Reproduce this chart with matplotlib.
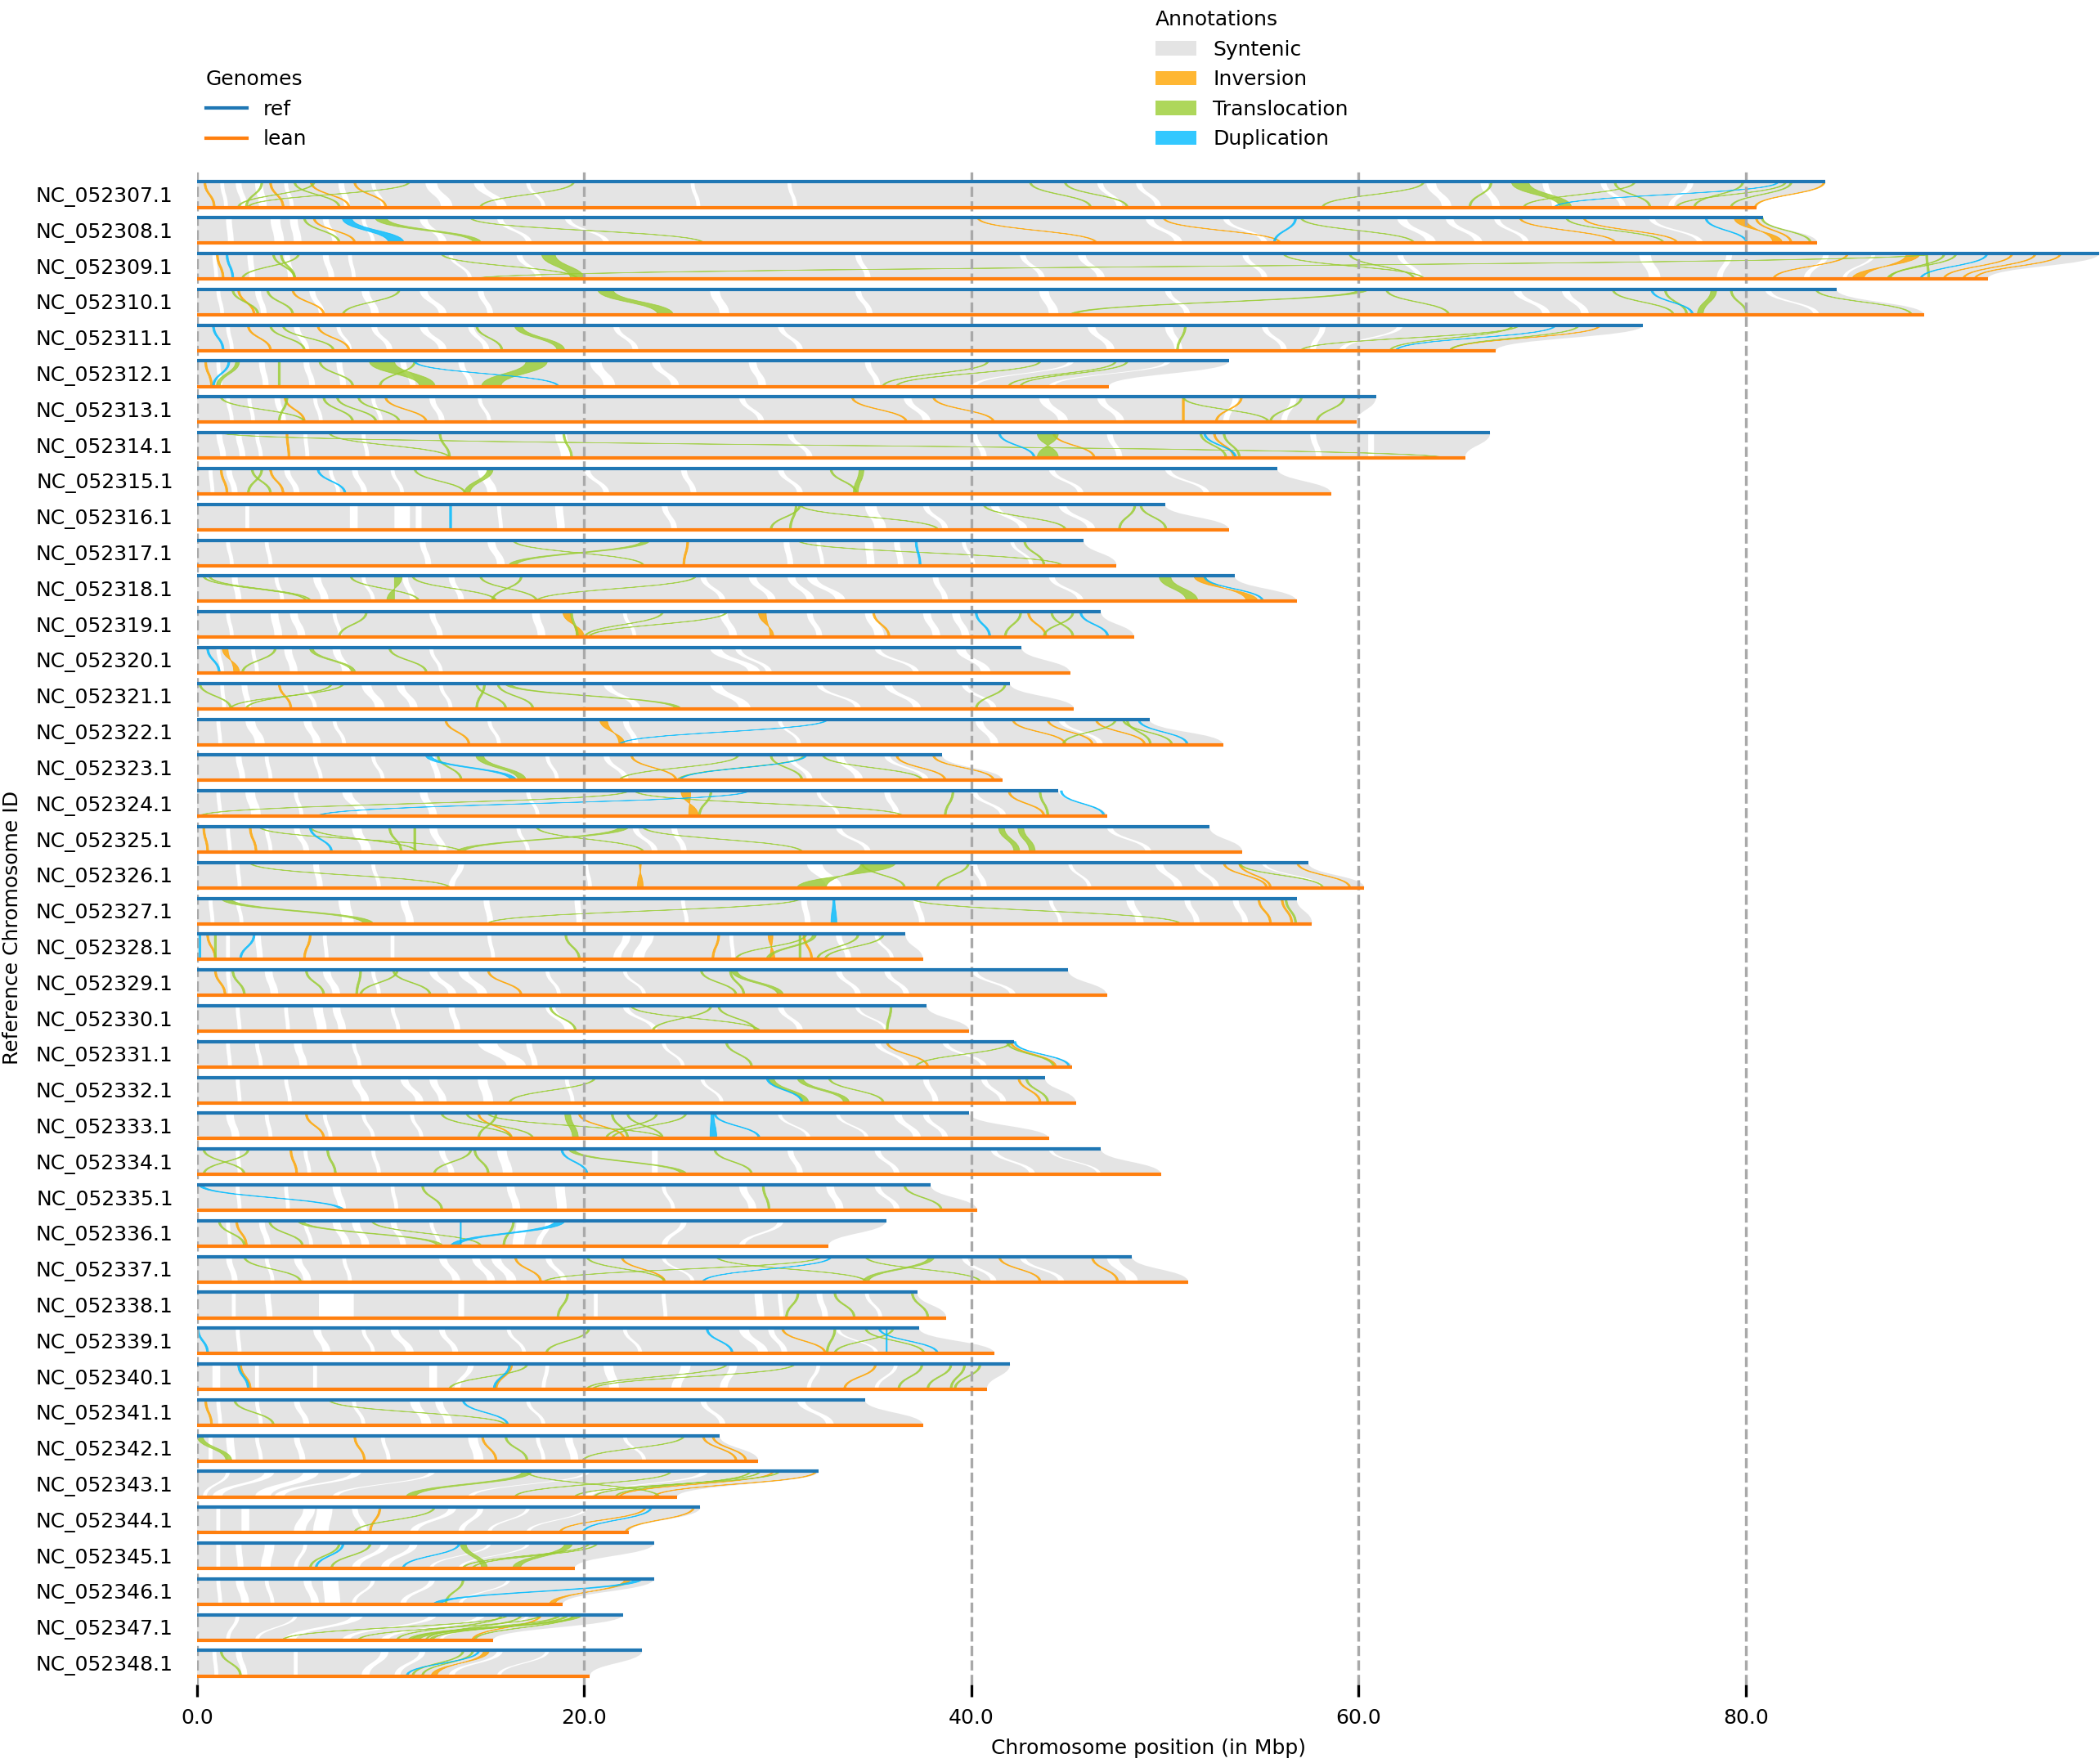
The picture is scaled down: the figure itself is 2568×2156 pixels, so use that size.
import numpy as np
import matplotlib.pyplot as plt
from matplotlib.path import Path
from matplotlib.patches import PathPatch, Patch
from matplotlib.lines import Line2D

chrom_ids = ["NC_052307.1", "NC_052308.1", "NC_052309.1", "NC_052310.1", "NC_052311.1",
             "NC_052312.1", "NC_052313.1", "NC_052314.1", "NC_052315.1", "NC_052316.1",
             "NC_052317.1", "NC_052318.1", "NC_052319.1", "NC_052320.1", "NC_052321.1",
             "NC_052322.1", "NC_052323.1", "NC_052324.1", "NC_052325.1", "NC_052326.1",
             "NC_052327.1", "NC_052328.1", "NC_052329.1", "NC_052330.1", "NC_052331.1",
             "NC_052332.1", "NC_052333.1", "NC_052334.1", "NC_052335.1", "NC_052336.1",
             "NC_052337.1", "NC_052338.1", "NC_052339.1", "NC_052340.1", "NC_052341.1",
             "NC_052342.1", "NC_052343.1", "NC_052344.1", "NC_052345.1", "NC_052346.1",
             "NC_052347.1", "NC_052348.1"]

# chromosome lengths in Mbp
ref_len = [84.1, 80.9, 98.25, 84.7, 74.7, 53.3, 60.9, 66.8, 55.8, 50.0,
           45.8, 53.6, 46.7, 42.6, 42.0, 49.2, 38.5, 44.5, 52.3, 57.4,
           56.8, 36.6, 45.0, 37.7, 42.2, 43.8, 39.9, 46.7, 37.9, 35.6,
           48.3, 37.2, 37.3, 42.0, 34.5, 27.0, 32.1, 26.0, 23.6, 23.6,
           22.0, 23.0]
lean_len = [80.55, 83.7, 92.5, 89.2, 67.1, 47.1, 59.9, 65.5, 58.6, 53.3,
            47.5, 56.8, 48.4, 45.1, 45.3, 53.0, 41.6, 47.0, 54.0, 60.3,
            57.6, 37.5, 47.0, 39.9, 45.2, 45.4, 44.0, 49.8, 40.3, 32.6,
            51.2, 38.7, 41.2, 40.8, 37.5, 29.0, 24.8, 22.3, 19.5, 18.9,
            15.3, 20.3]

# breaks between syntenic blocks: (ref pos, lean pos, gap width)
syn_gaps = [
    [(1.2, 1.4, 0.2), (2.0, 2.3, 0.3), (3.0, 3.2, 0.4), (4.5, 4.8, 0.2), (7.3, 7.6, 0.3), (9.0, 9.5, 0.2), (11.8, 12.6, 0.6), (14.3, 15.5, 0.5), (17.0, 17.8, 0.2), (25.5, 25.8, 0.2), (30.5, 30.8, 0.2), (46.5, 47.5, 0.3), (48.5, 49.5, 0.3), (63.5, 64.3, 0.5), (66.3, 66.9, 0.4), (69.5, 70.0, 0.3), (72.5, 73.5, 0.3), (77.0, 76.0, 0.3)],
    [(1.5, 1.6, 0.3), (3.8, 4.0, 0.5), (4.8, 5.0, 0.4), (6.5, 7.0, 0.3), (8.5, 9.0, 0.2), (11.5, 12.5, 0.4), (15.5, 17.0, 0.3), (19.0, 21.0, 0.3), (49.0, 50.5, 0.4), (53.0, 55.0, 0.3), (62.0, 63.5, 0.5), (64.5, 66.0, 0.4), (67.0, 68.5, 0.3), (75.0, 77.5, 0.3)],
    [(0.8, 0.9, 0.2), (2.6, 2.7, 0.3), (4.5, 4.7, 0.3), (6.5, 6.8, 0.3), (7.8, 8.0, 0.2), (13.0, 14.0, 0.2), (16.5, 17.5, 0.3), (34.0, 34.5, 0.3), (42.5, 43.5, 0.3), (45.5, 46.5, 0.4), (54.0, 55.0, 0.3), (62.0, 63.0, 0.3), (74.5, 75.0, 0.6), (79.0, 78.5, 0.3), (84.0, 83.0, 0.3), (86.5, 85.0, 0.2)],
    [(1.0, 1.2, 0.2), (3.0, 3.3, 0.3), (5.8, 6.3, 0.3), (8.5, 9.0, 0.4), (11.5, 12.5, 0.4), (14.5, 15.0, 0.3), (26.5, 27.0, 0.5), (34.0, 34.6, 0.3), (43.5, 44.0, 0.5), (50.0, 51.0, 0.3), (68.0, 69.5, 0.4), (70.5, 71.5, 0.4), (81.0, 83.5, 0.3)],
    [(1.5, 1.7, 0.2), (5.0, 5.5, 0.3), (7.2, 7.8, 0.2), (9.0, 9.8, 0.3), (11.5, 12.5, 0.4), (14.0, 14.8, 0.3), (21.5, 22.5, 0.3), (30.0, 31.0, 0.3), (46.0, 47.0, 0.4), (50.0, 50.5, 0.4), (55.0, 56.0, 0.3), (58.0, 57.5, 0.3), (62.0, 59.0, 0.3)],
    [(1.0, 1.1, 0.2), (3.2, 3.4, 0.3), (5.5, 5.8, 0.3), (7.2, 7.4, 0.3), (10.5, 11.0, 0.3), (13.5, 14.0, 0.3), (20.3, 21.0, 0.6), (23.5, 24.5, 0.4), (28.5, 29.0, 0.4), (34.5, 35.0, 0.3), (45.0, 40.0, 0.3), (50.0, 44.0, 0.3)],
    [(1.5, 1.7, 0.2), (2.6, 2.8, 0.2), (4.0, 4.3, 0.3), (6.0, 6.3, 0.2), (9.0, 9.4, 0.2), (12.0, 12.5, 0.3), (14.5, 15.0, 0.2), (28.0, 29.0, 0.3), (36.5, 37.5, 0.4), (43.5, 44.5, 0.5), (46.5, 47.5, 0.4), (53.5, 53.0, 0.3), (56.5, 56.0, 0.3)],
    [(1.0, 1.2, 0.3), (2.0, 2.2, 0.3), (3.0, 3.2, 0.2), (5.5, 5.6, 0.2), (8.5, 8.7, 0.2), (18.5, 18.8, 0.6), (30.5, 31.5, 0.3), (40.0, 40.5, 0.3), (47.0, 47.5, 0.3), (57.5, 57.8, 0.3), (60.5, 60.5, 0.3)],
    [(0.6, 0.7, 0.2), (1.5, 1.8, 0.3), (4.5, 5.0, 0.3), (6.8, 7.2, 0.2), (8.0, 8.5, 0.3), (10.0, 10.5, 0.2), (14.5, 15.0, 0.5), (20.0, 21.0, 0.3), (25.0, 25.5, 0.3), (30.0, 31.0, 0.3), (44.0, 45.5, 0.3), (50.0, 52.0, 0.3)],
    [(2.5, 2.5, 0.2), (7.9, 7.9, 0.4), (10.2, 10.2, 0.8), (11.3, 11.3, 0.3), (15.5, 15.6, 0.2), (18.5, 18.6, 0.4), (24.0, 24.5, 0.3), (34.5, 35.0, 0.6), (37.5, 38.5, 0.3), (41.0, 42.5, 0.4), (44.5, 46.0, 0.4)],
    [(1.5, 1.7, 0.2), (3.5, 3.7, 0.2), (11.5, 11.8, 0.3), (15.0, 15.5, 0.4), (30.3, 30.5, 0.3), (32.0, 32.2, 0.2), (34.5, 34.6, 0.4), (36.0, 36.2, 0.3), (39.5, 40.0, 0.2), (42.0, 43.0, 0.2)],
    [(1.8, 2.0, 0.3), (4.0, 4.3, 0.2), (6.0, 6.4, 0.4), (8.5, 9.0, 0.2), (10.6, 11.0, 0.3), (13.0, 13.5, 0.3), (26.0, 27.0, 0.3), (28.5, 29.5, 0.4), (30.5, 31.5, 0.4), (31.5, 33.0, 0.5), (38.0, 38.5, 0.3), (44.0, 45.5, 0.3)],
    [(1.5, 1.7, 0.2), (3.8, 4.0, 0.4), (4.8, 5.2, 0.4), (7.0, 7.3, 0.2), (12.0, 12.4, 0.3), (17.3, 17.6, 0.4), (22.0, 22.5, 0.2), (27.0, 27.5, 0.4), (31.5, 32.0, 0.3), (34.5, 35.0, 0.5), (37.5, 38.0, 0.4), (39.0, 39.5, 0.4)],
    [(1.0, 1.2, 0.2), (2.8, 3.0, 0.2), (4.5, 4.8, 0.4), (7.0, 7.5, 0.4), (12.0, 12.5, 0.2), (26.5, 28.5, 0.6), (27.8, 29.4, 0.3), (35.0, 37.0, 0.3), (39.2, 40.5, 0.5)],
    [(1.2, 1.3, 0.2), (2.3, 2.5, 0.3), (5.5, 6.0, 0.2), (8.5, 9.2, 0.5), (10.3, 11.0, 0.4), (12.5, 13.0, 0.2), (21.0, 22.5, 0.4), (26.5, 28.0, 0.6), (32.0, 34.0, 0.3), (35.5, 37.0, 0.4), (39.5, 41.0, 0.3)],
    [(1.0, 1.1, 0.2), (2.5, 3.0, 0.5), (5.5, 6.0, 0.4), (7.0, 7.5, 0.2), (15.0, 15.5, 0.2), (22.0, 22.5, 0.3), (30.0, 31.0, 0.2), (40.2, 41.0, 0.4), (44.5, 46.5, 0.3)],
    [(2.0, 2.2, 0.3), (3.5, 3.7, 0.2), (6.0, 6.3, 0.2), (9.0, 9.5, 0.2), (12.0, 12.3, 0.3), (18.0, 18.5, 0.2), (21.0, 22.0, 0.3), (30.5, 31.5, 0.3), (33.0, 34.0, 0.4), (35.5, 37.5, 0.3)],
    [(1.0, 1.1, 0.2), (2.5, 2.8, 0.5), (5.0, 5.3, 0.2), (7.5, 8.3, 0.5), (11.5, 12.0, 0.4), (17.0, 17.5, 0.2), (32.0, 33.0, 0.2), (35.5, 36.0, 0.3), (40.0, 41.5, 0.3)],
    [(1.5, 1.6, 0.2), (3.5, 3.7, 0.2), (5.0, 5.5, 0.3), (8.0, 8.5, 0.5), (12.0, 12.5, 0.4), (16.5, 17.0, 0.2), (22.5, 23.5, 0.3), (24.5, 25.0, 0.3), (33.0, 34.5, 0.3), (47.0, 49.0, 0.3)],
    [(2.0, 2.1, 0.2), (6.0, 6.2, 0.3), (9.0, 9.3, 0.2), (13.5, 13.0, 0.3), (20.0, 20.2, 0.2), (31.5, 32.5, 0.8), (40.0, 40.5, 0.3), (45.0, 46.0, 0.2), (49.5, 50.5, 0.4), (51.5, 52.5, 0.3), (55.0, 58.0, 0.2)],
    [(0.6, 0.7, 0.2), (2.0, 2.2, 0.2), (7.3, 7.5, 0.6), (10.5, 10.8, 0.4), (14.8, 15.0, 0.3), (19.5, 19.6, 0.3), (25.0, 25.2, 0.2), (31.2, 31.4, 0.3), (37.0, 37.3, 0.3), (44.0, 44.5, 0.2), (48.0, 48.5, 0.4), (51.0, 51.5, 0.3), (53.5, 54.0, 0.3)],
    [(1.5, 1.5, 0.2), (3.0, 3.1, 0.3), (6.5, 6.6, 0.2), (10.0, 10.0, 0.2), (15.0, 15.2, 0.2), (22.0, 21.5, 0.4), (23.0, 22.5, 0.6), (27.5, 27.6, 0.2), (33.0, 33.5, 0.3), (35.0, 35.8, 0.2)],
    [(1.5, 1.6, 0.2), (3.5, 3.8, 0.4), (6.5, 7.0, 0.4), (9.0, 9.3, 0.2), (12.0, 13.0, 0.4), (13.5, 14.5, 0.5), (18.0, 18.6, 0.2), (22.0, 23.0, 0.2), (33.0, 34.0, 0.3), (35.5, 36.5, 0.3), (40.0, 42.0, 0.3)],
    [(2.0, 2.1, 0.2), (4.5, 4.6, 0.2), (6.0, 6.2, 0.5), (7.0, 7.3, 0.4), (10.0, 10.3, 0.2), (13.0, 13.3, 0.3), (18.0, 19.0, 0.5), (22.0, 23.5, 0.3), (30.0, 31.0, 0.3), (34.0, 35.5, 0.2)],
    [(1.5, 1.6, 0.2), (3.0, 3.2, 0.2), (5.0, 5.3, 0.4), (8.0, 8.3, 0.2), (14.5, 16.0, 1.0), (17.0, 17.3, 0.3), (24.0, 25.0, 0.2), (35.0, 36.5, 0.3), (38.5, 40.5, 0.3)],
    [(2.0, 2.1, 0.2), (4.5, 4.7, 0.2), (8.0, 8.5, 0.4), (10.5, 11.3, 0.4), (12.0, 12.5, 0.4), (14.5, 14.8, 0.5), (19.0, 19.3, 0.2), (26.0, 27.0, 0.2), (37.5, 38.0, 0.3), (40.5, 41.5, 0.3)],
    [(1.5, 1.8, 0.4), (3.5, 3.7, 0.2), (6.5, 6.8, 0.2), (8.5, 9.0, 0.2), (11.0, 11.5, 0.2), (30.0, 31.5, 0.2), (33.0, 34.5, 0.2), (36.0, 37.0, 0.4), (37.5, 38.5, 0.3)],
    [(2.0, 2.1, 0.2), (5.5, 5.7, 0.2), (9.0, 9.3, 0.2), (12.5, 13.0, 0.3), (15.5, 15.8, 0.5), (23.5, 23.5, 0.3), (30.5, 31.0, 0.3), (35.0, 36.0, 0.3), (41.0, 43.0, 0.3), (44.0, 46.5, 0.2)],
    [(2.0, 2.1, 0.2), (4.5, 4.6, 0.2), (7.0, 7.3, 0.4), (10.0, 10.2, 0.2), (16.0, 16.3, 0.4), (18.5, 18.6, 0.5), (24.0, 24.5, 0.2), (28.0, 28.5, 0.4), (32.5, 33.0, 0.4), (35.0, 36.0, 0.3)],
    [(1.5, 1.6, 0.2), (3.2, 3.5, 0.3), (5.5, 5.8, 0.2), (7.0, 7.5, 0.4), (8.0, 8.5, 0.4), (10.0, 10.5, 0.3), (12.0, 12.4, 0.2), (16.5, 16.3, 0.6), (18.0, 17.5, 0.3), (25.0, 24.0, 0.3), (30.0, 28.0, 0.3)],
    [(1.5, 1.8, 0.3), (3.5, 3.8, 0.2), (5.0, 5.5, 0.4), (7.5, 7.8, 0.2), (12.5, 13.2, 0.4), (14.2, 15.0, 0.4), (15.2, 16.0, 0.5), (18.0, 18.8, 0.3), (24.0, 25.5, 0.2), (39.5, 41.0, 0.3), (42.5, 44.5, 0.3), (47.0, 48.0, 0.6)],
    [(1.8, 1.8, 0.2), (3.5, 3.6, 0.3), (6.3, 6.3, 1.8), (13.5, 13.5, 0.3), (20.5, 20.5, 0.2), (24.0, 24.1, 0.2), (28.8, 28.9, 0.4), (30.0, 30.1, 0.2), (32.0, 32.3, 0.3), (34.5, 35.2, 0.2)],
    [(2.0, 2.1, 0.2), (6.0, 6.5, 0.4), (8.5, 9.0, 0.2), (10.0, 10.8, 0.4), (12.5, 13.2, 0.3), (16.0, 16.8, 0.2), (22.0, 22.8, 0.2), (28.0, 29.0, 0.5), (29.5, 30.2, 0.3), (33.0, 35.0, 0.2)],
    [(0.8, 0.8, 0.4), (3.0, 3.0, 0.2), (6.0, 6.0, 0.2), (12.0, 12.0, 0.4), (14.0, 13.3, 0.3), (18.0, 17.8, 0.2), (21.0, 21.3, 0.5), (25.0, 24.5, 0.5), (27.5, 27.0, 0.4), (32.0, 31.5, 0.2), (36.0, 35.0, 0.2)],
    [(1.0, 1.1, 0.2), (3.0, 3.2, 0.2), (5.0, 5.5, 0.3), (8.0, 8.5, 0.2), (11.0, 11.6, 0.5), (12.3, 12.8, 0.4), (17.0, 17.8, 0.2), (26.0, 27.0, 0.3), (31.0, 32.5, 0.4)],
    [(0.6, 0.6, 0.2), (1.5, 1.6, 0.4), (3.0, 3.2, 0.2), (5.0, 5.3, 0.3), (9.5, 9.8, 0.2), (14.0, 14.3, 0.5), (17.5, 17.8, 0.2), (19.0, 19.3, 0.4), (22.0, 23.0, 0.2)],
    [(1.5, 0.3, 0.2), (3.5, 0.8, 0.5), (5.5, 3.0, 0.8), (8.0, 4.0, 0.5), (12.0, 7.0, 0.3), (20.0, 14.0, 0.3), (26.0, 20.0, 0.4)],
    [(1.0, 1.0, 0.2), (2.3, 2.3, 0.4), (5.5, 5.0, 0.6), (6.2, 6.0, 0.8), (8.0, 8.5, 0.3), (13.0, 11.0, 0.4), (14.5, 13.5, 0.3), (17.0, 15.0, 0.2), (20.0, 17.0, 0.2)],
    [(1.0, 1.0, 0.2), (2.0, 2.1, 0.3), (3.5, 3.3, 0.5), (5.5, 5.0, 0.2), (9.5, 8.0, 0.4), (11.0, 9.5, 0.4), (15.0, 12.0, 0.2), (17.0, 13.5, 0.2)],
    [(1.0, 1.1, 0.2), (2.0, 2.3, 0.4), (3.5, 3.8, 0.2), (5.5, 5.9, 0.4), (6.5, 6.6, 0.8), (9.0, 8.0, 0.2), (12.0, 10.5, 0.3), (16.0, 13.5, 0.2)],
    [(2.0, 1.5, 0.2), (5.0, 3.0, 0.2), (8.0, 4.5, 0.6), (12.0, 7.5, 0.4), (14.5, 9.5, 0.4), (17.0, 12.5, 0.2)],
    [(0.8, 0.9, 0.2), (2.0, 2.3, 0.3), (5.0, 5.0, 0.2), (9.5, 8.5, 0.4), (11.5, 10.2, 0.3), (15.5, 13.0, 0.3), (18.0, 15.5, 0.2)],
]

# structural annotations: (chromosome, ref start, ref end, lean start, lean end)
inversions = [
    (307, 0.36, 0.46, 0.84, 0.94), (307, 3.75, 3.85, 4.4, 4.5), (307, 5.85, 5.95, 7.8, 7.9), (307, 8.1, 8.2, 9.7, 9.8), (307, 84.0, 84.1, 80.45, 80.55),
    (308, 6.0, 6.1, 8.1, 8.2), (308, 40.3, 40.4, 46.4, 46.5), (308, 49.9, 50.0, 55.9, 56.0), (308, 68.3, 68.4, 73.2, 73.3), (308, 71.6, 71.7, 76.4, 76.5), (308, 79.4, 80.0, 81.9, 81.4), (308, 80.5, 80.6, 82.3, 82.4),
    (309, 1.0, 1.1, 1.3, 1.4), (309, 85.2, 85.3, 81.4, 81.5), (309, 88.3, 89.0, 86.1, 85.5), (309, 93.7, 93.8, 90.2, 90.3), (309, 94.9, 95.0, 91.2, 91.3), (309, 96.2, 96.3, 91.8, 91.9),
    (310, 2.1, 2.2, 2.9, 3.0), (310, 4.9, 5.0, 6.5, 6.6),
    (311, 2.6, 2.7, 3.75, 3.85), (311, 6.2, 6.3, 7.8, 7.9), (311, 72.4, 72.5, 64.7, 64.8),
    (312, 0.4, 0.5, 0.7, 0.8),
    (313, 4.5, 4.6, 5.5, 5.6), (313, 9.7, 9.8, 11.8, 11.9), (313, 33.8, 33.9, 36.6, 36.7), (313, 38.0, 38.1, 41.1, 41.2), (313, 50.9, 51.0, 50.9, 51.0), (313, 53.9, 54.0, 52.6, 52.7),
    (314, 4.6, 4.7, 4.7, 4.8), (314, 44.2, 44.3, 46.3, 46.4), (314, 52.5, 52.6, 53.5, 53.6),
    (315, 1.2, 1.3, 1.5, 1.6), (315, 3.75, 3.85, 4.4, 4.5),
    (317, 25.3, 25.4, 25.1, 25.2),
    (318, 51.5, 52.1, 54.8, 54.2),
    (319, 18.9, 19.3, 20.0, 19.6), (319, 29.0, 29.4, 29.8, 29.6), (319, 34.9, 35.0, 35.7, 35.8), (319, 42.9, 43.0, 43.8, 43.9),
    (320, 1.3, 1.6, 2.2, 1.9),
    (321, 4.2, 4.3, 4.8, 4.9),
    (322, 12.8, 12.9, 14.0, 14.1), (322, 20.8, 21.2, 22.1, 21.8), (322, 42.1, 42.2, 44.8, 44.9), (322, 43.9, 44.0, 46.2, 46.3), (322, 46.4, 46.5, 48.9, 49.0),
    (323, 22.4, 22.5, 24.7, 24.8), (323, 36.1, 36.2, 38.6, 38.7), (323, 38.0, 38.1, 41.1, 41.2),
    (324, 25.0, 25.5, 25.9, 25.4), (324, 41.9, 42.0, 43.7, 43.8),
    (325, 0.3, 0.4, 0.5, 0.6), (325, 2.7, 2.8, 3.0, 3.1),
    (326, 22.85, 22.95, 23.05, 22.75), (326, 53.0, 53.1, 55.2, 55.3), (326, 53.8, 53.9, 55.4, 55.5), (326, 56.8, 56.9, 59.5, 59.6),
    (327, 54.8, 54.9, 55.4, 55.5), (327, 56.0, 56.1, 56.5, 56.6),
    (328, 0.5, 0.6, 0.9, 1.0), (328, 5.8, 5.9, 5.5, 5.6), (328, 26.9, 27.0, 26.6, 26.7), (328, 29.5, 29.75, 29.85, 29.6), (328, 31.3, 31.4, 31.7, 31.8),
    (329, 0.9, 1.0, 1.4, 1.5), (329, 15.0, 15.1, 16.7, 16.8),
    (331, 35.6, 35.7, 37.7, 37.8), (331, 42.0, 42.1, 44.3, 44.4),
    (332, 42.4, 42.5, 43.5, 43.6),
    (333, 5.6, 5.7, 6.5, 6.6), (333, 14.5, 14.6, 16.2, 16.3), (333, 19.7, 19.8, 22.0, 22.1),
    (334, 4.8, 4.9, 5.1, 5.2),
    (336, 2.0, 2.1, 2.5, 2.6),
    (337, 16.4, 16.5, 17.7, 17.8), (337, 21.9, 22.0, 24.1, 24.2), (337, 41.4, 41.5, 43.5, 43.6), (337, 46.2, 46.3, 47.5, 47.6),
    (339, 30.2, 30.3, 32.4, 32.5),
    (340, 2.2, 2.3, 2.7, 2.8), (340, 16.2, 16.3, 15.4, 15.5), (340, 35.0, 35.1, 33.4, 33.5),
    (341, 0.4, 0.5, 0.7, 0.8),
    (342, 8.1, 8.2, 8.6, 8.7), (342, 14.7, 14.8, 15.4, 15.5), (342, 26.1, 26.2, 27.8, 27.9), (342, 26.6, 26.7, 28.3, 28.4),
    (343, 29.7, 29.8, 21.8, 21.9), (343, 31.9, 32.0, 23.6, 23.7),
    (344, 9.4, 9.5, 8.9, 9.0), (344, 23.1, 23.2, 18.7, 18.8), (344, 25.6, 25.7, 22.1, 22.2),
    (346, 22.1, 22.4, 18.5, 18.2),
    (347, 17.7, 17.8, 14.2, 14.3),
    (348, 14.8, 15.1, 12.4, 12.1),
]

translocations = [
    (307, 3.3, 3.4, 2.5, 2.6), (307, 6.0, 6.1, 2.1, 2.2), (307, 10.9, 11.0, 2.6, 2.7), (307, 5.0, 5.1, 7.3, 7.4), (307, 19.4, 19.5, 14.6, 14.7), (307, 43.0, 43.1, 46.1, 46.2), (307, 44.8, 44.9, 48.0, 48.1), (307, 63.3, 63.4, 58.1, 58.2), (307, 66.8, 66.9, 65.7, 65.8), (307, 67.9, 68.8, 70.4, 71.0), (307, 73.2, 73.3, 75.0, 75.1), (307, 74.2, 74.3, 68.5, 68.6), (307, 82.0, 82.1, 76.4, 76.5), (307, 82.3, 82.4, 79.2, 79.3), (307, 79.8, 79.9, 77.3, 77.4),
    (308, 5.5, 5.6, 7.3, 7.4), (308, 9.2, 9.8, 14.3, 14.7), (308, 14.1, 14.2, 26.1, 26.2), (308, 57.0, 57.1, 62.8, 62.9), (308, 70.7, 70.8, 75.7, 75.8), (308, 80.8, 80.9, 83.3, 83.4),
    (309, 5.2, 5.3, 2.3, 2.4), (309, 3.9, 4.0, 5.0, 5.1), (309, 4.3, 4.4, 5.0, 5.1), (309, 12.6, 12.7, 19.6, 19.7), (309, 17.8, 18.5, 19.3, 20.0), (309, 89.6, 89.7, 14.3, 14.4), (309, 56.1, 56.2, 63.3, 63.4), (309, 59.5, 59.6, 62.8, 62.9), (309, 89.3, 89.4, 89.4, 89.5), (309, 90.2, 90.3, 87.4, 87.5), (309, 90.8, 90.9, 87.3, 87.4),
    (310, 1.8, 1.9, 3.1, 3.2), (310, 3.6, 3.7, 4.9, 5.0), (310, 10.4, 10.5, 7.5, 7.6), (310, 20.7, 21.5, 23.8, 24.6), (310, 60.0, 60.5, 45.1, 45.4), (310, 61.4, 61.5, 64.6, 64.7), (310, 73.1, 73.2, 76.2, 76.3), (310, 75.8, 75.9, 76.9, 77.0), (310, 78.2, 78.5, 77.5, 77.8), (310, 79.2, 79.3, 80.0, 80.1), (310, 83.6, 83.7, 88.5, 88.6),
    (311, 3.75, 3.85, 5.5, 5.6), (311, 4.4, 4.5, 7.0, 7.1), (311, 14.4, 14.5, 15.7, 15.8), (311, 16.4, 16.8, 18.6, 19.0), (311, 51.0, 51.1, 50.6, 50.7), (311, 68.2, 68.3, 57.0, 57.1), (311, 71.3, 71.4, 64.7, 64.8), (311, 67.9, 68.0, 61.6, 61.7),
    (312, 2.0, 2.2, 1.0, 1.2), (312, 4.2, 4.3, 4.2, 4.3), (312, 6.3, 6.4, 8.0, 8.1), (312, 8.9, 10.2, 11.5, 12.3), (312, 11.2, 11.3, 9.4, 9.5), (312, 17.0, 18.1, 14.7, 15.7), (312, 40.8, 40.9, 35.4, 35.5), (312, 43.5, 43.6, 36.1, 36.2), (312, 47.4, 47.5, 41.9, 42.0), (312, 48.0, 48.1, 42.5, 42.6),
    (313, 1.2, 1.3, 5.5, 5.6), (313, 4.6, 4.7, 4.2, 4.3), (313, 6.5, 6.6, 8.0, 8.1), (313, 7.2, 7.3, 9.2, 9.3), (313, 8.3, 8.4, 10.4, 10.5), (313, 50.9, 51.0, 55.3, 55.4), (313, 57.0, 57.1, 55.4, 55.5), (313, 59.2, 59.3, 57.8, 57.9),
    (314, 1.2, 1.3, 64.4, 64.5), (314, 6.8, 6.9, 13.0, 13.1), (314, 12.5, 12.6, 13.0, 13.1), (314, 18.9, 19.0, 19.3, 19.4), (314, 43.4, 44.5, 44.5, 43.4), (314, 51.8, 51.9, 53.1, 53.2), (314, 53.0, 53.1, 53.8, 53.9),
    (315, 3.3, 3.4, 2.6, 2.7), (315, 2.8, 2.9, 3.75, 3.85), (315, 11.2, 11.3, 13.8, 13.9), (315, 15.0, 15.3, 13.8, 14.1), (315, 32.7, 32.8, 34.0, 34.1), (315, 34.2, 34.45, 33.9, 34.15),
    (316, 31.1, 31.2, 29.6, 29.7), (316, 30.9, 31.0, 30.6, 30.7), (316, 31.1, 31.2, 38.2, 38.3), (316, 40.6, 40.7, 44.8, 44.9), (316, 48.4, 48.5, 47.6, 47.7), (316, 48.7, 48.8, 50.0, 50.1),
    (317, 23.0, 23.4, 16.1, 16.5), (317, 16.3, 16.4, 23.0, 23.1), (317, 31.0, 31.1, 44.6, 44.7), (317, 42.7, 42.8, 43.7, 43.8),
    (318, 0.3, 0.4, 5.6, 5.7), (318, 0.6, 0.7, 5.8, 5.9), (318, 10.2, 10.6, 10.2, 9.8), (318, 7.9, 8.0, 11.4, 11.5), (318, 11.1, 11.2, 15.4, 15.5), (318, 16.7, 16.8, 15.2, 15.3), (318, 14.6, 14.7, 17.5, 17.6), (318, 25.7, 25.8, 17.5, 17.6), (318, 49.7, 50.3, 51.1, 51.7),
    (319, 8.7, 8.8, 7.3, 7.4), (319, 19.3, 19.4, 19.6, 19.7), (319, 24.0, 24.1, 20.0, 20.1), (319, 27.3, 27.4, 20.2, 20.3), (319, 42.5, 42.6, 41.7, 41.8), (319, 44.1, 44.2, 45.2, 45.3), (319, 45.2, 45.3, 43.7, 43.8),
    (320, 4.0, 4.1, 2.3, 2.4), (320, 5.8, 6.0, 8.0, 8.2), (320, 9.9, 10.0, 11.8, 11.9),
    (321, 0.1, 0.2, 1.7, 1.8), (321, 7.5, 7.6, 1.7, 1.8), (321, 6.9, 7.0, 2.5, 2.6), (321, 14.8, 14.9, 14.4, 14.5), (321, 15.5, 15.6, 17.3, 17.4), (321, 15.9, 16.2, 24.7, 25.0), (321, 14.4, 14.5, 15.9, 16.0), (321, 41.7, 41.8, 40.2, 40.3),
    (322, 47.4, 47.5, 44.7, 44.8), (322, 48.0, 48.1, 49.2, 49.3), (322, 47.8, 47.9, 50.3, 50.4),
    (323, 12.4, 12.5, 13.6, 13.7), (323, 14.4, 14.8, 16.6, 17.0), (323, 27.9, 28.0, 21.8, 21.9), (323, 29.6, 29.7, 31.2, 31.3), (323, 32.3, 32.4, 37.4, 37.5), (323, 31.3, 31.4, 24.8, 24.9),
    (324, 22.2, 22.3, 0.1, 0.2), (324, 22.6, 22.7, 36.4, 36.5), (324, 26.5, 26.6, 25.9, 26.0), (324, 39.0, 39.1, 38.6, 38.7), (324, 43.5, 43.6, 43.9, 44.0),
    (325, 3.2, 3.3, 13.6, 13.7), (325, 5.8, 5.9, 11.3, 11.4), (325, 9.9, 10.0, 10.5, 10.6), (325, 11.2, 11.3, 11.2, 11.3), (325, 21.8, 22.3, 13.4, 13.8), (325, 17.5, 17.6, 23.0, 23.1), (325, 23.0, 23.1, 31.2, 31.3), (325, 41.4, 41.7, 42.2, 42.5), (325, 42.4, 42.7, 43.0, 43.3),
    (326, 2.7, 2.8, 13.0, 13.1), (326, 34.3, 36.1, 32.5, 31.0), (326, 34.3, 34.4, 36.5, 36.6), (326, 39.8, 39.9, 38.2, 38.3), (326, 53.8, 53.9, 58.1, 58.2),
    (327, 1.25, 1.75, 8.6, 9.1), (327, 31.1, 31.2, 15.0, 15.1), (327, 36.9, 37.0, 50.7, 50.8), (327, 56.2, 56.3, 56.7, 56.8),
    (328, 0.9, 1.0, 0.9, 1.0), (328, 19.0, 19.1, 19.7, 19.8), (328, 31.4, 31.5, 27.8, 27.9), (328, 31.1, 31.2, 31.1, 31.2), (328, 34.1, 34.2, 32.0, 32.1), (328, 35.4, 35.5, 32.4, 32.5), (328, 31.8, 32.0, 29.4, 29.6),
    (329, 1.8, 1.9, 2.4, 2.5), (329, 5.6, 5.7, 6.5, 6.6), (329, 8.4, 8.5, 8.2, 8.3), (329, 10.3, 10.4, 8.4, 8.5), (329, 10.1, 10.2, 12.0, 12.1), (329, 26.0, 26.1, 27.8, 27.9), (329, 27.6, 27.9, 30.0, 30.3), (329, 27.5, 27.6, 28.2, 28.3),
    (330, 18.2, 18.3, 19.5, 19.6), (330, 22.4, 22.5, 29.0, 29.1), (330, 26.5, 26.6, 23.5, 23.6), (330, 26.9, 27.0, 28.8, 28.9), (330, 35.8, 35.9, 35.6, 35.7),
    (331, 27.3, 27.4, 28.6, 28.7), (331, 42.0, 42.1, 37.1, 37.2), (331, 41.8, 41.9, 44.2, 44.3),
    (332, 20.5, 20.6, 16.1, 16.2), (332, 29.5, 29.8, 31.3, 31.6), (332, 31.0, 31.3, 33.4, 33.7), (332, 32.6, 32.7, 35.4, 35.5), (332, 42.8, 42.9, 43.9, 44.0),
    (333, 12.6, 12.7, 16.2, 16.3), (333, 13.9, 14.0, 17.3, 17.4), (333, 15.4, 15.5, 14.5, 14.6), (333, 15.0, 15.1, 24.0, 24.1), (333, 19.0, 19.3, 19.4, 19.7), (333, 21.4, 21.5, 22.2, 22.3), (333, 23.7, 23.8, 21.1, 21.2), (333, 25.2, 25.3, 21.4, 21.5), (333, 22.2, 22.3, 24.0, 24.1),
    (334, 0.3, 0.4, 2.4, 2.5), (334, 2.6, 2.7, 0.3, 0.4), (334, 6.7, 6.8, 7.1, 7.2), (334, 14.1, 14.2, 12.2, 12.3), (334, 14.3, 14.4, 15.0, 15.1), (334, 19.2, 19.5, 25.0, 25.3), (334, 26.7, 26.8, 28.6, 28.7),
    (335, 11.6, 11.7, 12.6, 12.7), (335, 29.2, 29.3, 29.5, 29.6), (335, 36.5, 36.6, 38.4, 38.5),
    (336, 1.1, 1.2, 2.4, 2.5), (336, 3.7, 3.8, 5.4, 5.5), (336, 5.2, 5.5, 12.4, 12.7), (336, 9.0, 9.1, 14.6, 14.7), (336, 16.3, 16.4, 15.8, 15.9),
    (337, 2.4, 2.5, 5.3, 5.4), (337, 20.1, 20.2, 24.1, 24.2), (337, 32.2, 32.3, 17.9, 18.0), (337, 26.8, 26.9, 34.5, 34.6), (337, 37.8, 38.1, 34.4, 34.7), (337, 34.5, 34.6, 40.4, 40.5),
    (338, 19.1, 19.2, 18.6, 18.7), (338, 31.0, 31.1, 30.4, 30.5), (338, 32.9, 33.0, 33.9, 34.0), (338, 36.9, 37.0, 37.7, 37.8),
    (339, 20.2, 20.3, 18.0, 18.1), (339, 32.9, 33.0, 32.5, 32.6), (339, 35.9, 36.0, 32.9, 33.0), (339, 34.5, 34.6, 37.5, 37.6),
    (340, 17.0, 17.1, 13.0, 13.1), (340, 27.3, 27.4, 20.1, 20.2), (340, 30.8, 30.9, 20.4, 20.5), (340, 37.4, 37.5, 36.2, 36.3), (340, 38.9, 39.0, 37.7, 37.8), (340, 39.6, 39.7, 38.9, 39.0), (340, 40.4, 40.5, 39.1, 39.2),
    (341, 1.9, 2.0, 3.9, 4.0), (341, 6.8, 6.9, 15.9, 16.0),
    (342, 0.0, 0.3, 1.5, 1.8), (342, 15.9, 16.0, 17.0, 17.1), (342, 25.1, 25.2, 19.9, 20.0),
    (343, 16.8, 17.3, 10.8, 11.3), (343, 17.0, 17.1, 23.8, 23.9), (343, 24.4, 24.5, 16.4, 16.5), (343, 28.5, 28.6, 21.6, 21.7), (343, 29.0, 29.1, 20.5, 20.6), (343, 30.0, 30.1, 19.5, 19.6),
    (344, 12.2, 12.3, 8.1, 8.2),
    (345, 7.3, 7.4, 5.8, 5.9), (345, 8.9, 9.0, 6.9, 7.0), (345, 13.6, 13.9, 14.7, 15.0), (345, 19.0, 19.4, 16.3, 16.7), (345, 20.2, 20.3, 13.7, 13.8), (345, 20.6, 20.7, 14.2, 14.3),
    (346, 13.7, 13.8, 12.8, 12.9),
    (347, 16.0, 16.1, 4.4, 4.5), (347, 19.5, 19.9, 11.1, 11.5), (347, 17.7, 17.8, 8.3, 8.4), (347, 19.4, 19.5, 14.3, 14.4), (347, 15.7, 15.8, 10.3, 10.4), (347, 18.6, 18.8, 10.9, 11.1), (347, 19.0, 19.2, 12.0, 12.2), (347, 16.7, 16.8, 11.8, 11.9),
    (348, 1.2, 1.3, 2.2, 2.3), (348, 13.7, 13.8, 11.1, 11.2), (348, 14.2, 14.3, 11.6, 11.7),
]

duplications = [
    (307, 81.6, 81.7, 70.1, 70.2),
    (308, 7.5, 8.0, 9.9, 10.7), (308, 56.7, 56.8, 55.6, 55.7), (308, 77.9, 78.0, 80.0, 80.1),
    (309, 1.5, 1.6, 1.8, 1.9), (309, 92.4, 92.5, 89.0, 89.1),
    (310, 75.1, 75.2, 77.2, 77.3),
    (311, 0.8, 0.9, 1.3, 1.4), (311, 70.1, 70.2, 61.9, 62.0),
    (312, 1.6, 1.7, 0.8, 0.9), (312, 11.2, 11.3, 18.6, 18.7),
    (314, 41.4, 41.5, 43.2, 43.3), (314, 52.0, 52.1, 53.6, 53.7),
    (315, 6.2, 6.3, 7.6, 7.7),
    (316, 13.05, 13.15, 13.05, 13.15),
    (317, 37.1, 37.2, 37.3, 37.4),
    (318, 52.0, 52.1, 55.0, 55.1),
    (319, 40.2, 40.3, 40.9, 41.0), (319, 45.6, 45.7, 47.0, 47.1),
    (320, 0.5, 0.6, 1.1, 1.2),
    (322, 32.5, 32.6, 21.8, 21.9), (322, 48.6, 48.7, 51.1, 51.2),
    (323, 11.8, 12.1, 16.2, 16.5), (323, 31.4, 31.5, 24.9, 25.0),
    (324, 28.4, 28.5, 6.2, 6.3), (324, 44.6, 44.7, 46.8, 46.9),
    (325, 5.8, 5.9, 6.9, 7.0),
    (327, 32.85, 32.95, 32.75, 33.05),
    (328, 0.1, 0.2, 0.1, 0.2), (328, 2.9, 3.0, 2.2, 2.3),
    (331, 42.2, 42.3, 45.0, 45.1),
    (332, 29.4, 29.5, 31.2, 31.3),
    (333, 26.55, 26.7, 26.5, 26.85), (333, 26.7, 26.8, 29.0, 29.1),
    (334, 18.8, 18.9, 20.1, 20.2),
    (335, 0.1, 0.3, 7.4, 7.6),
    (336, 13.6, 13.65, 13.6, 13.65), (336, 18.5, 19.0, 13.1, 13.5),
    (337, 32.7, 32.8, 26.1, 26.2),
    (339, 0.0, 0.1, 0.5, 0.6), (339, 26.3, 26.4, 27.6, 27.7), (339, 35.6, 35.65, 35.6, 35.65), (339, 35.2, 35.3, 38.2, 38.3),
    (340, 2.1, 2.2, 2.6, 2.7), (340, 16.1, 16.2, 15.3, 15.4),
    (341, 13.7, 13.8, 16.0, 16.1),
    (344, 23.4, 23.5, 19.9, 20.0),
    (345, 7.5, 7.6, 6.1, 6.2), (345, 13.5, 13.6, 10.6, 10.7),
    (346, 22.6, 23.0, 12.2, 12.6),
    (348, 14.5, 14.6, 10.8, 10.9),
]

x_ticks = [0, 20, 40, 60, 80]

colors = {'syn': '#DEDEDE', 'inv': '#FFA500', 'tra': '#9ACD32', 'dup': '#00BBFF'}
ref_col = '#1f77b4'
lean_col = '#ff7f0e'
dy = 0.71   # vertical distance between ref and lean line

plt.rcParams['font.size'] = 6

fig = plt.figure(figsize=(8.56, 7.1867), dpi=300)
ax = fig.add_axes([0.0938, 0.0445, 0.9062, 0.8584])


def ribbon(r0, r1, q0, q1, yt, yb, color, lw=0.0):
    ym = (yt + yb) / 2
    verts = [(r0, yt), (r1, yt), (r1, ym), (q1, ym), (q1, yb),
             (q0, yb), (q0, ym), (r0, ym), (r0, yt), (r0, yt)]
    codes = [Path.MOVETO, Path.LINETO, Path.CURVE4, Path.CURVE4, Path.CURVE4,
             Path.LINETO, Path.CURVE4, Path.CURVE4, Path.CURVE4, Path.CLOSEPOLY]
    p = PathPatch(Path(verts, codes), facecolor=color, edgecolor=color,
                  lw=lw, alpha=0.8, zorder=2 if lw else 1)
    ax.add_patch(p)


# syntenic blocks
for i, (lr, lq, gaps) in enumerate(zip(ref_len, lean_len, syn_gaps)):
    r, q = 0.0, 0.0
    for gr, gq, w in gaps:
        ribbon(r, gr, q, gq, i, i + dy, colors['syn'])
        r, q = gr + w, gq + w
    ribbon(r, lr, q, lq, i, i + dy, colors['syn'])

# annotations
for key, data in [('inv', inversions), ('tra', translocations), ('dup', duplications)]:
    for c, r0, r1, q0, q1 in data:
        i = c - 307
        ribbon(r0, r1, q0, q1, i, i + dy, colors[key], lw=0.2)

for x in x_ticks:
    ax.axvline(x, color='darkgrey', ls='--', lw=0.8, zorder=2.5)

# chromosome lines
for i in range(len(chrom_ids)):
    ax.plot([0, ref_len[i]], [i, i], color=ref_col, lw=1.0, solid_capstyle='butt', zorder=3)
    ax.plot([0, lean_len[i]], [i + dy, i + dy], color=lean_col, lw=1.0, solid_capstyle='butt', zorder=3)

ax.set_xlim(0, 98.3)
ax.set_ylim(41 + dy + 0.24, -0.3)
ax.set_xticks(x_ticks)
ax.set_xticklabels([f"{x:.1f}" for x in x_ticks])
ax.set_yticks([i + dy / 2 for i in range(len(chrom_ids))])
ax.set_yticklabels(chrom_ids)
ax.tick_params(axis='y', length=0, pad=7)
ax.tick_params(axis='x', labelsize=6)
for s in ax.spines.values():
    s.set_visible(False)
ax.set_xlabel("Chromosome position (in Mbp)", fontsize=6, labelpad=3)
ax.set_ylabel("Reference Chromosome ID", fontsize=6)

gen_handles = [Line2D([], [], color=ref_col, lw=1.0, label='ref'),
               Line2D([], [], color=lean_col, lw=1.0, label='lean')]
fig.legend(handles=gen_handles, title='Genomes', loc='lower left',
           bbox_to_anchor=(0.0892, 0.905), frameon=False, fontsize=6,
           title_fontsize=6, alignment='left')

ann_handles = [Patch(facecolor=colors['syn'], alpha=0.8, lw=0, label='Syntenic'),
               Patch(facecolor=colors['inv'], alpha=0.8, lw=0, label='Inversion'),
               Patch(facecolor=colors['tra'], alpha=0.8, lw=0, label='Translocation'),
               Patch(facecolor=colors['dup'], alpha=0.8, lw=0, label='Duplication')]
fig.legend(handles=ann_handles, title='Annotations', loc='lower left',
           bbox_to_anchor=(0.5415, 0.905), frameon=False, fontsize=6,
           title_fontsize=6, alignment='left')

fig.savefig('out.png', dpi=300)
